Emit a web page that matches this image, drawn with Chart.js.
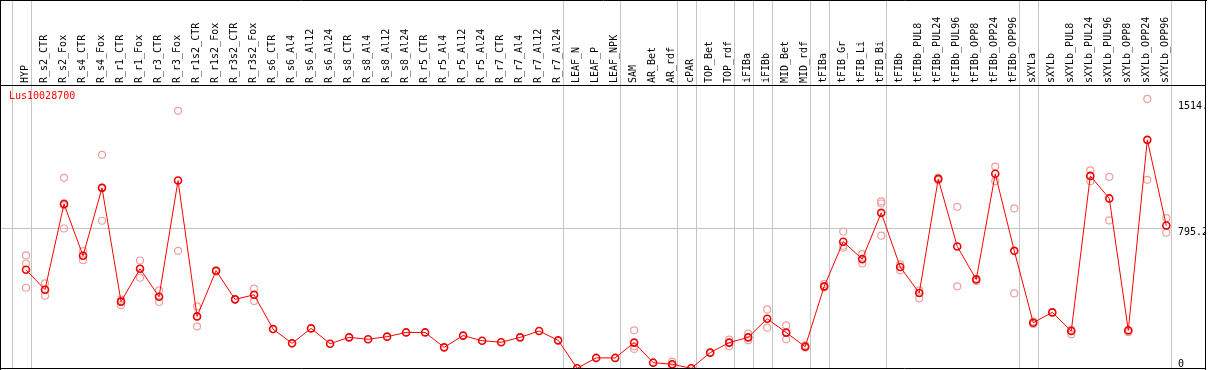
<!DOCTYPE html>
<html>
<head>
<meta charset="utf-8">
<script src="https://cdn.jsdelivr.net/npm/chart.js@4/dist/chart.umd.min.js"></script>
<style>
  html, body { margin: 0; padding: 0; background: #fff; }
  #wrap { width: 1209px; height: 370px; }
</style>
</head>
<body>
<div id="wrap"><canvas id="c" width="1209" height="370"></canvas></div>
<script>
const chartTitle = 'Lus10028700';

const categories = [
  'HYP','R_s2_CTR','R_s2_Fox','R_s4_CTR','R_s4_Fox','R_r1_CTR','R_r1_Fox','R_r3_CTR','R_r3_Fox',
  'R_r1s2_CTR','R_r1s2_Fox','R_r3s2_CTR','R_r3s2_Fox','R_s6_CTR','R_s6_Al4','R_s6_Al12','R_s6_Al24',
  'R_s8_CTR','R_s8_Al4','R_s8_Al12','R_s8_Al24','R_r5_CTR','R_r5_Al4','R_r5_Al12','R_r5_Al24',
  'R_r7_CTR','R_r7_Al4','R_r7_Al12','R_r7_Al24','LEAF_N','LEAF_P','LEAF_NPK','SAM','AR_Bet','AR_rdf',
  'cPAR','TOP_Bet','TOP_rdf','iFIBa','iFIBb','MID_Bet','MID_rdf','tFIBa','tFIB_Gr','tFIB_Li','tFIB_Bi',
  'tFIBb','tFIBb_PUL8','tFIBb_PUL24','tFIBb_PUL96','tFIBb_OPP8','tFIBb_OPP24','tFIBb_OPP96',
  'sXYLa','sXYLb','sXYLb_PUL8','sXYLb_PUL24','sXYLb_PUL96','sXYLb_OPP8','sXYLb_OPP24','sXYLb_OPP96'
];

const means = [
  560, 447, 935, 640, 1026, 379, 566, 407, 1068,
  295, 555, 392, 418, 223, 142, 227, 140,
  176, 165, 180, 204, 204, 119, 186, 157,
  148, 176, 212, 159, 0, 59, 59, 146, 32, 23,
  0, 89, 146, 176, 282, 203, 123, 466, 720, 621, 884,
  576, 428, 1077, 693, 505, 1106, 668,
  259, 318, 212, 1094, 966, 216, 1299, 812
];

const replicates = [
  [642, 596, 458], [483, 413, 447], [1083, 795, 927], [666, 615, 640], [1214, 839, 1026],
  [390, 358, 379], [613, 515, 566], [443, 377, 407], [1464, 668],
  [352, 237, 295], [555, 550], [392], [453, 382, 418], [], [], [], [],
  [], [], [], [], [], [], [], [],
  [], [], [], [], [], [], [], [216, 110, 125], [], [38, 15, 23],
  [], [89], [163, 125], [197, 159], [335, 231], [244, 165], [130, 118], [480, 460], [778, 686, 697], [649, 596], [949, 937, 754],
  [591, 557], [443, 398], [1083, 1070], [918, 466], [496, 510], [1147, 1064], [909, 426],
  [266, 252], [318], [193, 218], [1126, 1064], [1089, 841], [210, 205], [1532, 1072], [854, 771]
];

// index of last category in each group (group separators)
const groupEnds = [-1, 0, 28, 31, 34, 35, 37, 38, 39, 41, 42, 45, 52, 53, 60];

const yTickValues = [0, 795.2, 1514];
const yTickLabels = ['0', '795.2', '1514.'];

const FONT = 'DejaVu Sans Mono';
Chart.defaults.font.family = FONT;

const X_MIN = -1.3155, X_MAX = 60.247;
const LABEL_SHIFT = 0.58; // label axis offset so rotated text sits next to its point

const meanData = means.map((v, i) => ({ x: i, y: v }));
const repData = [];
replicates.forEach((arr, i) => arr.forEach(v => repData.push({ x: i, y: v })));

const framePlugin = {
  id: 'frame',
  beforeDatasetsDraw(chart) {
    const { ctx, chartArea, scales: { x } } = chart;
    ctx.save();
    ctx.strokeStyle = '#c4c4c4';
    ctx.lineWidth = 1;
    groupEnds.forEach(g => {
      const px = Math.round(x.getPixelForValue(g + 0.25)) + 0.5;
      ctx.beginPath();
      ctx.moveTo(px, 0);
      ctx.lineTo(px, chartArea.bottom);
      ctx.stroke();
    });
    ctx.restore();
  },
  afterDraw(chart) {
    const { ctx, chartArea } = chart;
    ctx.save();
    ctx.strokeStyle = '#000';
    ctx.lineWidth = 1;
    ctx.beginPath();
    ctx.moveTo(0, 0.5); ctx.lineTo(1207, 0.5);
    ctx.moveTo(0.5, 0); ctx.lineTo(0.5, 370);
    ctx.moveTo(1205.5, 0); ctx.lineTo(1205.5, 370);
    ctx.moveTo(0, 368.5); ctx.lineTo(1206, 368.5);
    ctx.moveTo(0, Math.round(chartArea.top) + 0.5); ctx.lineTo(1206, Math.round(chartArea.top) + 0.5);
    ctx.stroke();
    ctx.fillStyle = '#ff0000';
    ctx.font = '10px "' + FONT + '"';
    ctx.textBaseline = 'alphabetic';
    ctx.textAlign = 'left';
    ctx.fillText(chartTitle, chartArea.left + 8, chartArea.top + 14);
    ctx.restore();
  }
};

new Chart(document.getElementById('c'), {
  type: 'line',
  data: {
    datasets: [
      {
        label: 'mean',
        data: meanData,
        order: 0,
        borderColor: '#ff0000',
        borderWidth: 1,
        pointRadius: 3.5,
        pointBorderWidth: 1.6,
        pointBorderColor: '#ee0000',
        pointBackgroundColor: 'rgba(0,0,0,0)',
        tension: 0,
        fill: false
      },
      {
        label: 'replicates',
        data: repData,
        order: 1,
        showLine: false,
        pointRadius: 3.5,
        pointBorderWidth: 1.2,
        pointBorderColor: '#f0a0a0',
        pointBackgroundColor: 'rgba(0,0,0,0)'
      }
    ]
  },
  options: {
    responsive: false,
    animation: false,
    layout: { autoPadding: false, padding: { left: 1, right: 3, top: 0, bottom: 1 } },
    plugins: { legend: { display: false }, tooltip: { enabled: false }, title: { display: false } },
    scales: {
      x: {
        type: 'linear',
        position: 'top',
        display: false,
        min: X_MIN,
        max: X_MAX
      },
      xl: {
        type: 'linear',
        position: 'top',
        min: X_MIN - LABEL_SHIFT,
        max: X_MAX - LABEL_SHIFT,
        afterBuildTicks: (scale) => { scale.ticks = categories.map((_, i) => ({ value: i })); },
        afterFit: (scale) => { scale.height = 85; scale.paddingLeft = 0; scale.paddingRight = 0; },
        grid: { display: false, drawTicks: false },
        border: { display: false },
        ticks: {
          autoSkip: false,
          minRotation: 90,
          maxRotation: 90,
          padding: 2,
          color: '#000',
          font: { family: FONT, size: 10 },
          callback: (v) => categories[v] !== undefined ? categories[v] : ''
        }
      },
      y: {
        type: 'linear',
        position: 'right',
        min: -4,
        max: 1611,
        afterBuildTicks: (scale) => { scale.ticks = yTickValues.map(v => ({ value: v })); },
        afterFit: (scale) => { scale.width = 35; scale.paddingTop = 0; scale.paddingBottom = 0; },
        grid: {
          drawTicks: false,
          color: (ctx) => (ctx.tick && ctx.tick.value === 795.2) ? '#c4c4c4' : 'rgba(0,0,0,0)'
        },
        border: { display: false },
        ticks: {
          padding: 7,
          color: '#000',
          font: { family: FONT, size: 10, lineHeight: 0.8 },
          callback: (v) => {
            const lab = yTickLabels[yTickValues.indexOf(v)];
            return v === 0 ? [lab, ''] : ['', lab];
          }
        }
      }
    }
  },
  plugins: [framePlugin]
});
</script>
</body>
</html>
